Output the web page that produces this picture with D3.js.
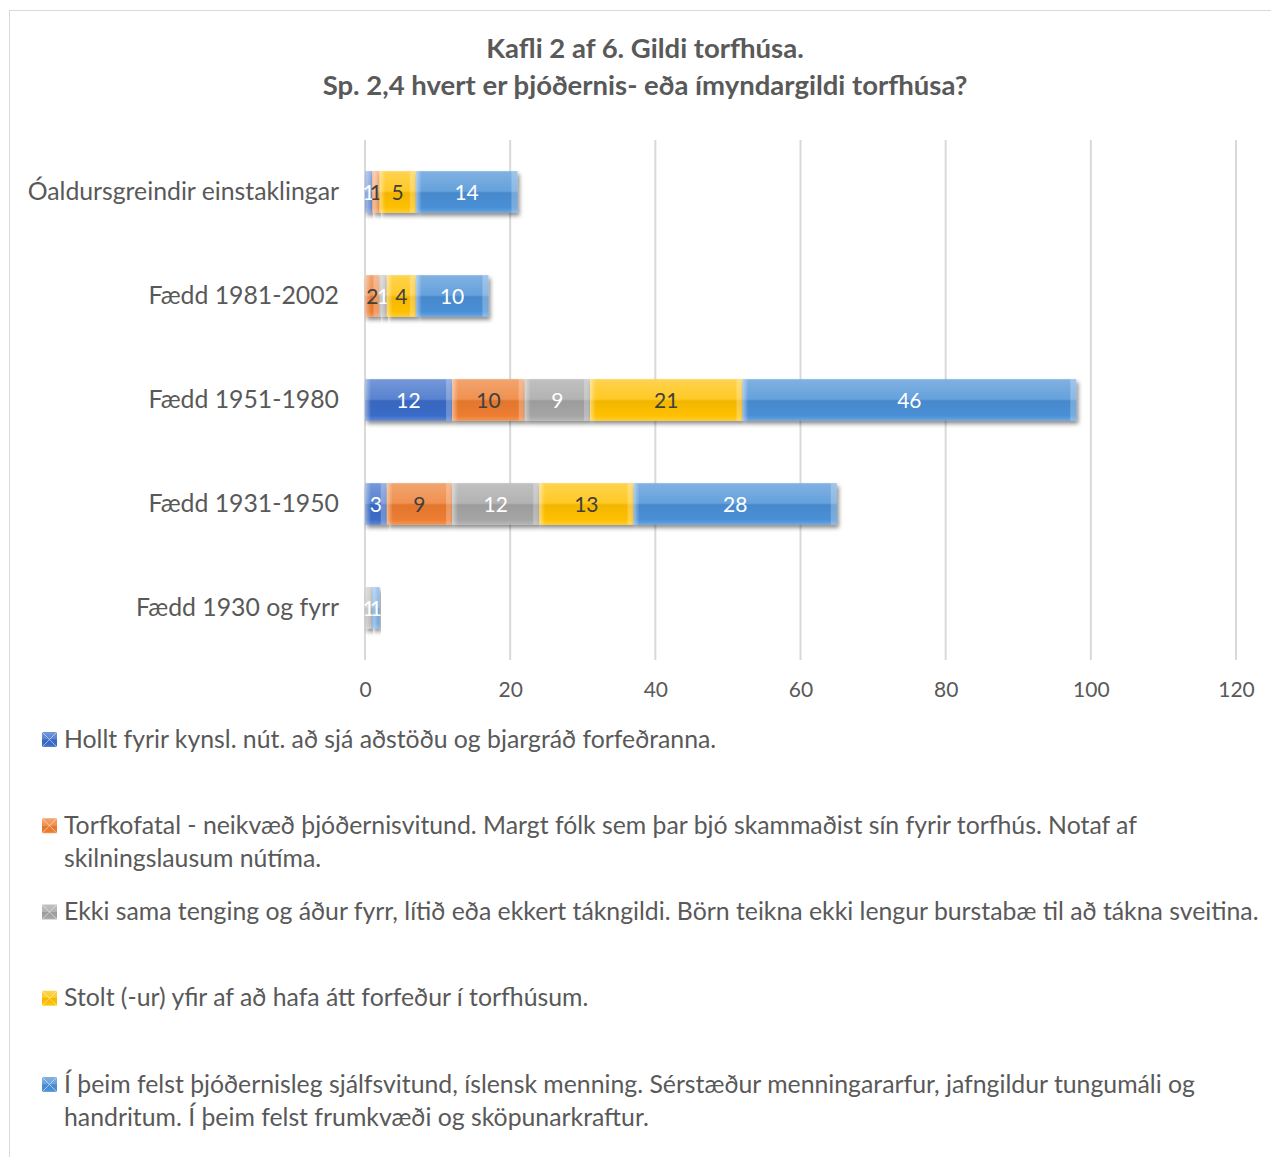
<!DOCTYPE html>
<html>
<head>
<meta charset="utf-8">
<script src="https://cdn.jsdelivr.net/npm/d3@7"></script>
<style>
  body { margin: 0; background: #fff; }
  svg text { font-family: Lato, "Open Sans", sans-serif; }
</style>
</head>
<body>
<svg id="chart" width="1271" height="1157"></svg>
<script>
// data
var categories = ["Óaldursgreindir einstaklingar", "Fædd 1981-2002", "Fædd 1951-1980", "Fædd 1931-1950", "Fædd 1930 og fyrr"];
var legendLines = [
  ["Hollt fyrir kynsl. nút. að sjá aðstöðu og bjargráð forfeðranna."],
  ["Torfkofatal - neikvæð þjóðernisvitund. Margt fólk sem þar bjó skammaðist sín fyrir torfhús. Notaf af", "skilningslausum nútíma."],
  ["Ekki sama tenging og áður fyrr, lítið eða ekkert tákngildi. Börn teikna ekki lengur burstabæ til að tákna sveitina."],
  ["Stolt (-ur) yfir af að hafa átt forfeður í torfhúsum."],
  ["Í þeim felst þjóðernisleg sjálfsvitund, íslensk menning. Sérstæður menningararfur, jafngildur tungumáli og", "handritum. Í þeim felst frumkvæði og sköpunarkraftur."]
];
var hollt     = [1, 0, 12, 3, 0];
var torfkofa  = [1, 2, 10, 9, 0];
var ekkiSama  = [0, 1, 9, 12, 1];
var stolt     = [5, 4, 21, 13, 0];
var ithiem    = [14, 10, 46, 28, 1];
var xTicks = [0, 20, 40, 60, 80, 100, 120];
var titleLines = ["Kafli 2 af 6. Gildi torfhúsa.", "Sp. 2,4 hvert er þjóðernis- eða ímyndargildi torfhúsa?"];

var colors = ["#3a6cc8", "#ed7d31", "#a5a5a5", "#ffc000", "#4a90d6"];
var labelColors = ["#ffffff", "#404040", "#ffffff", "#404040", "#ffffff"];

var seriesValues = [hollt, torfkofa, ekkiSama, stolt, ithiem];
var table = categories.map(function(c, i) {
    var row = {cat: c};
    seriesValues.forEach(function(s, k) { row["s" + k] = s[i]; });
    return row;
});
var keys = seriesValues.map(function(s, k) { return "s" + k; });
var stacked = d3.stack().keys(keys)(table);

var svg = d3.select("#chart");
var textColor = "#595959";

// frame
svg.append("rect")
    .attr("x", 9.5).attr("y", 10.5)
    .attr("width", 1270).attr("height", 1160)
    .attr("fill", "none").attr("stroke", "#d9d9d9");

// gradients
var defs = svg.append("defs");
colors.forEach(function(c, k) {
    var g = defs.append("linearGradient").attr("id", "grad" + k)
        .attr("x1", 0).attr("y1", 0).attr("x2", 0).attr("y2", 1);
    g.append("stop").attr("offset", "0%").attr("stop-color", d3.interpolateRgb(c, "#fff")(0.3));
    g.append("stop").attr("offset", "48%").attr("stop-color", d3.interpolateRgb(c, "#fff")(0.15));
    g.append("stop").attr("offset", "52%").attr("stop-color", d3.color(c).darker(0.15));
    g.append("stop").attr("offset", "88%").attr("stop-color", c);
    g.append("stop").attr("offset", "100%").attr("stop-color", d3.interpolateRgb(c, "#fff")(0.2));
    var e = defs.append("linearGradient").attr("id", "edge" + k)
        .attr("x1", 0).attr("y1", 0).attr("x2", 1).attr("y2", 0);
    e.append("stop").attr("offset", "0%").attr("stop-color", "#fff").attr("stop-opacity", 0.45);
    e.append("stop").attr("offset", "100%").attr("stop-color", "#fff").attr("stop-opacity", 0);
});
var filt = defs.append("filter").attr("id", "shadow")
    .attr("x", "-5%").attr("y", "-20%").attr("width", "115%").attr("height", "160%");
filt.append("feDropShadow").attr("dx", 2).attr("dy", 3).attr("stdDeviation", 2)
    .attr("flood-color", "#000").attr("flood-opacity", 0.45);

// title
svg.append("text")
    .attr("x", 645).attr("y", 58)
    .attr("text-anchor", "middle").attr("fill", textColor)
    .attr("font-size", "27.5px").attr("font-weight", "bold")
    .text(titleLines[0]);
svg.append("text")
    .attr("x", 645).attr("y", 95)
    .attr("text-anchor", "middle").attr("fill", textColor)
    .attr("font-size", "27.5px").attr("font-weight", "bold")
    .text(titleLines[1]);

// scales
var plotLeft = 365, plotRight = 1236, plotTop = 140, plotBottom = 660;
var x = d3.scaleLinear().domain([0, 120]).range([plotLeft, plotRight]);
var y = d3.scaleBand().domain(categories).range([plotTop, plotBottom]).paddingInner(0.6).paddingOuter(0.3);

// grid
svg.append("g")
    .selectAll("line")
    .data(xTicks)
    .enter()
    .append("line")
    .attr("x1", function(d) { return x(d); })
    .attr("x2", function(d) { return x(d); })
    .attr("y1", plotTop).attr("y2", plotBottom)
    .attr("stroke", "#d9d9d9").attr("stroke-width", 2);

// x axis
var xAxis = svg.append("g")
    .attr("transform", "translate(0," + plotBottom + ")")
    .call(d3.axisBottom(x).tickValues(xTicks).tickSize(0).tickPadding(22));
xAxis.select(".domain").remove();
xAxis.selectAll("text").attr("fill", textColor).attr("font-size", "21px")
    .attr("font-family", "Lato, 'Open Sans', sans-serif");

// y axis labels
var yAxis = svg.append("g")
    .attr("transform", "translate(" + plotLeft + ",0)")
    .call(d3.axisLeft(y).tickSize(0).tickPadding(26));
yAxis.select(".domain").remove();
yAxis.selectAll("text").attr("fill", textColor).attr("font-size", "24.8px")
    .attr("font-family", "Lato, 'Open Sans', sans-serif");

// bars
var layers = svg.append("g").selectAll("g.layer")
    .data(stacked)
    .enter()
    .append("g")
    .attr("class", "layer");

layers.each(function(layer, k) {
    var g = d3.select(this);
    var segs = layer.filter(function(d) { return d[1] - d[0] > 0; });
    var seg = g.selectAll("g.seg").data(segs).enter().append("g").attr("class", "seg");
    seg.append("rect")
        .attr("x", function(d) { return x(d[0]); })
        .attr("y", function(d) { return y(d.data.cat); })
        .attr("width", function(d) { return x(d[1]) - x(d[0]); })
        .attr("height", y.bandwidth())
        .attr("fill", "url(#grad" + k + ")")
        .attr("filter", "url(#shadow)");
    // bevel highlight on the left end
    seg.append("rect")
        .attr("x", function(d) { return x(d[0]); })
        .attr("y", function(d) { return y(d.data.cat); })
        .attr("width", function(d) { return Math.min(6, x(d[1]) - x(d[0])); })
        .attr("height", y.bandwidth())
        .attr("fill", "url(#edge" + k + ")");
    // bevel on the right end
    seg.append("rect")
        .attr("x", function(d) { return x(d[1]) - Math.min(6, x(d[1]) - x(d[0])); })
        .attr("y", function(d) { return y(d.data.cat); })
        .attr("width", function(d) { return Math.min(6, x(d[1]) - x(d[0])); })
        .attr("height", y.bandwidth())
        .attr("fill", "#fff").attr("opacity", 0.25);
});

// value labels
layers.each(function(layer, k) {
    d3.select(this).selectAll("text.val")
        .data(layer.filter(function(d) { return d[1] - d[0] > 0; }))
        .enter()
        .append("text")
        .attr("class", "val")
        .attr("x", function(d) { return (x(d[0]) + x(d[1])) / 2; })
        .attr("y", function(d) { return y(d.data.cat) + y.bandwidth() / 2; })
        .attr("dy", "0.36em")
        .attr("text-anchor", "middle")
        .attr("font-size", "21px")
        .attr("fill", labelColors[k])
        .text(function(d) { return d[1] - d[0]; });
});

// legend
var ly = d3.scaleLinear().domain([0, 4]).range([739, 1084]);
var legend = svg.append("g").selectAll("g")
    .data(legendLines)
    .enter()
    .append("g")
    .attr("transform", function(d, i) { return "translate(0," + ly(i) + ")"; });
legend.append("rect")
    .attr("x", 42).attr("y", -7)
    .attr("width", 15).attr("height", 15)
    .attr("fill", function(d, i) { return "url(#grad" + i + ")"; });
legend.append("path")
    .attr("d", "M42,-7 L49.5,0.5 L42,8 M57,-7 L49.5,0.5 L57,8")
    .attr("stroke", "#fff").attr("stroke-opacity", 0.5).attr("fill", "none");
legend.each(function(lines) {
    var t = d3.select(this).append("text")
        .attr("x", 64).attr("y", 0)
        .attr("fill", textColor)
        .attr("font-size", "24.8px");
    lines.forEach(function(l, j) {
        t.append("tspan").attr("x", 64).attr("y", j * 33).attr("dy", "0.35em").text(l);
    });
});
</script>
</body>
</html>
